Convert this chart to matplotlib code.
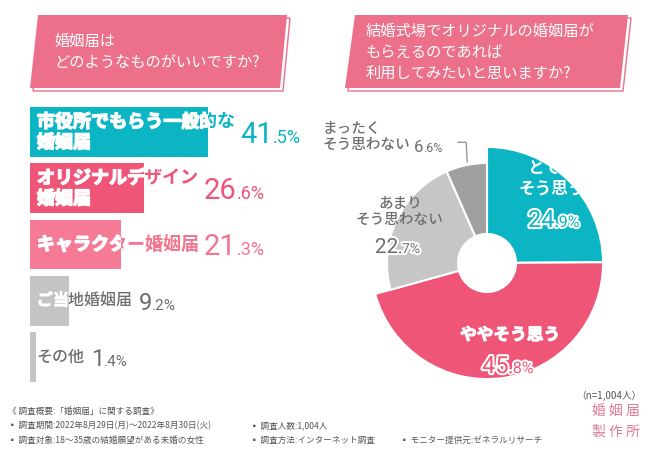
import matplotlib
matplotlib.use("Agg")
import matplotlib.pyplot as plt
from matplotlib.patches import Polygon
import matplotlib.patheffects as pe

JP = "Noto Sans CJK JP"
NUM = "Roboto"
plt.rcParams["font.family"] = [JP, "DejaVu Sans"]

# data
q1_title = "婚姻届は\nどのようなものがいいですか?"
bar_labels = ["市役所でもらう一般的な\n婚姻届", "オリジナルデザイン\n婚姻届",
              "キャラクター婚姻届", "ご当地婚姻届", "その他"]
bar_values = [41.5, 26.6, 21.3, 9.2, 1.4]

q2_title = "結婚式場でオリジナルの婚姻届が\nもらえるのであれば\n利用してみたいと思いますか?"
pie_labels = ["とても\nそう思う", "ややそう思う", "あまり\nそう思わない", "まったく\nそう思わない"]
pie_values = [24.9, 45.8, 22.7, 6.6]
sample_note = "（n=1,004人）"

footer_lines = [
    (8, 411, "《 調査概要:「婚姻届」に関する調査》"),
    (8, 426, "▪ 調査期間:2022年8月29日(月)～2022年8月30日(火)"),
    (250, 426, "▪ 調査人数:1,004人"),
    (8, 440, "▪ 調査対象:18～35歳の結婚願望がある未婚の女性"),
    (250, 440, "▪ 調査方法:インターネット調査"),
    (400, 440, "▪ モニター提供元:ゼネラルリサーチ"),
]

# colours
TITLE_PINK = "#EC7089"
TEAL = "#0BB5C4"
PINK = "#EE5577"
LIGHT_PINK = "#F47A95"
BAR_GRAY = "#C4C4C4"
PIE_LGRAY = "#C6C6C6"
PIE_DGRAY = "#A0A0A0"
TEXT_GRAY = "#6E6E6E"

bar_colors = [TEAL, PINK, LIGHT_PINK, BAR_GRAY, BAR_GRAY]
bar_text_colors = [TEAL, PINK, "#F27590", TEXT_GRAY, TEXT_GRAY]
pie_colors = [TEAL, PINK, PIE_LGRAY, PIE_DGRAY]
pie_radii = [1.0, 1.0, 0.862, 0.862]
HOLE = 0.25

fig = plt.figure(figsize=(6.5, 4.5), dpi=100)
W, H = 650, 450


def frac_box(x0, y0, w, h):
    return [x0 / W, 1 - (y0 + h) / H, w / W, h / H]


def add_pct(ax, x, y, xref, val, color, big, small, dx=0, dy=0, stroke=None):
    whole, frac = f"{val:.1f}".split(".")
    effects = [pe.withStroke(linewidth=stroke, foreground="white")] if stroke else None
    t1 = ax.annotate(whole, xy=(x, y), xycoords=(xref, "data"), xytext=(dx, dy),
                     textcoords="offset pixels", ha="left", va="baseline",
                     fontsize=big, color=color, family=NUM, path_effects=effects)
    ax.annotate("." + frac + "%", xy=(1, y), xycoords=(t1, "data"), xytext=(0, dy),
                textcoords="offset pixels", ha="left", va="baseline",
                fontsize=small, color=color, family=NUM, path_effects=effects)


# ---- bar chart
px_per_pct = 4.289
axb = fig.add_axes(frac_box(30, 104, 290, 281))
axb.set_xlim(0, 290 / px_per_pct)
axb.set_ylim(len(bar_values) - 0.5, -0.5)
axb.axis("off")
bars = axb.barh(range(len(bar_values)), bar_values, height=0.889, color=bar_colors, lw=0)

for i, (lab, val) in enumerate(zip(bar_labels, bar_values)):
    major = i < 3
    fs = 13 if major else 11.5
    wt = "bold" if major else "medium"
    base = axb.text(1.6, i, lab, fontsize=fs, fontweight=wt, color=bar_text_colors[i],
                    ha="left", va="center", linespacing=1.1)
    white = axb.text(1.6, i, lab, fontsize=fs, fontweight=wt, color="white",
                     ha="left", va="center", linespacing=1.1,
                     path_effects=[pe.withStroke(linewidth=1, foreground="white")])
    white.set_clip_path(bars[i])
    white.set_clip_on(True)
    if major:
        add_pct(axb, 1, i, base, val, bar_text_colors[i], 21, 13, dx=5, dy=-11)
    else:
        add_pct(axb, 1, i, base, val, bar_text_colors[i], 17, 11, dx=6, dy=-9)

# ---- donut chart
axp = fig.add_axes(frac_box(487 - 130, 263 - 130, 260, 260))
wedges, _ = axp.pie(pie_values, colors=pie_colors, startangle=90, counterclock=False,
                    radius=1, wedgeprops=dict(width=1 - HOLE, edgecolor="white", linewidth=1.5))
for w, r in zip(wedges, pie_radii):
    w.set_radius(r)
    w.set_width(r - HOLE)
axp.set_xlim(-1.12, 1.12)
axp.set_ylim(-1.12, 1.12)
axp.set_aspect("equal")
axp.axis("off")

white_fx = [pe.withStroke(linewidth=0.8, foreground="white")]
add_pct(axp, 0.353, 0.31, "data", pie_values[0], TEAL, 17, 11.5, stroke=3)

axp.text(0.198, -0.62, pie_labels[1], fontsize=12, fontweight="bold", color="white",
         ha="center", va="center", path_effects=white_fx)
add_pct(axp, -0.043, -0.948, "data", pie_values[1], PINK, 17, 11.5, stroke=3)

axp.text(-0.75, 0.44, pie_labels[2], fontsize=10.5, fontweight="medium", color=TEXT_GRAY,
         ha="center", va="center", multialignment="center", linespacing=1.2)
add_pct(axp, -0.966, 0.086, "data", pie_values[2], TEXT_GRAY, 15, 10, stroke=3)

axp.text(-1.414, 1.086, pie_labels[3], fontsize=10.5, fontweight="medium", color=TEXT_GRAY,
         ha="left", va="center", linespacing=1.2)
add_pct(axp, -0.63, 0.957, "data", pie_values[3], TEXT_GRAY, 12, 9)

# leader line for the smallest slice
axp.plot([-0.17, -0.18, -0.25], [0.87, 1.04, 1.04], color="#999999", lw=1)

# ---- overlay (pixel coords) for title boxes and footer
ov = fig.add_axes([0, 0, 1, 1])
ov.set_xlim(0, W)
ov.set_ylim(H, 0)
ov.axis("off")
ov.patch.set_visible(False)


def title_box(pts, text, tx, ty):
    shadow = [(x + 3, y + 3) for x, y in pts]
    ov.add_patch(Polygon(shadow, closed=True, facecolor="white", edgecolor=TITLE_PINK, lw=1))
    ov.add_patch(Polygon(pts, closed=True, facecolor=TITLE_PINK, edgecolor="none"))
    ov.text(tx, ty, text, color="white", fontsize=11, ha="left", va="top", linespacing=1.28)


title_box([(38, 15), (287, 15), (280, 88), (30, 88)], q1_title, 54, 33)
title_box([(355, 15), (628, 15), (620, 88), (345, 88)], q2_title, 366, 23)

for x, y, s in footer_lines:
    ov.text(x, y, s, fontsize=6.2, color="#555555", ha="left", va="center")
ov.text(642, 396, sample_note, fontsize=7, color="#555555", ha="right", va="center")
ov.text(640, 411, "婚 姻 届", fontsize=10, color="#E07A95", ha="right", va="center")
ov.text(640, 432, "製 作 所", fontsize=10, color="#E07A95", ha="right", va="center")

# top slice name as figure text, drawn after every axes
fig.text(552 / W, 1 - 178 / H, pie_labels[0], fontsize=12, fontweight="bold", color="white",
         ha="center", va="center", multialignment="center", linespacing=1.15, zorder=20)

fig.savefig("out.png", dpi=100)
